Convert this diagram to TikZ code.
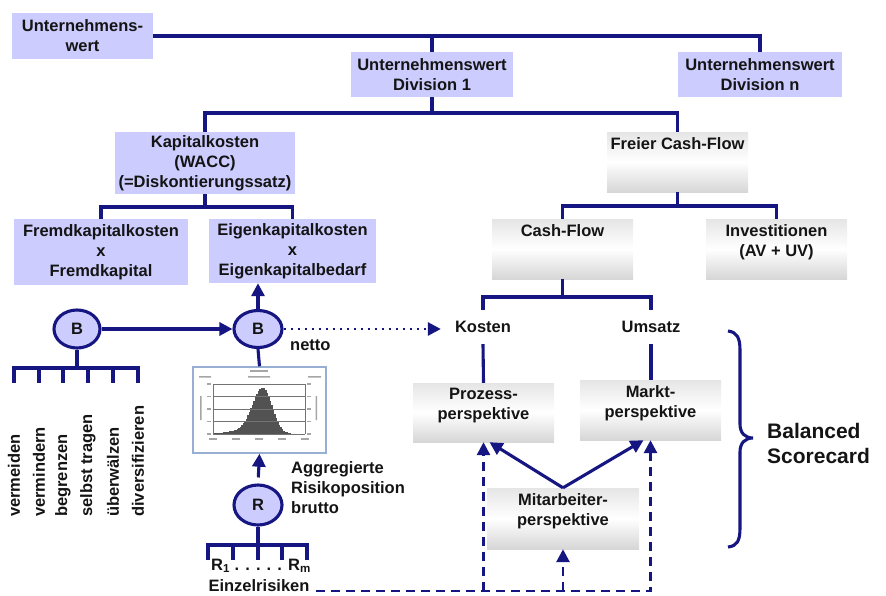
\documentclass[tikz,border=0pt]{standalone}
\usepackage{fontspec}
\setmainfont{Liberation Sans}
\usetikzlibrary{arrows.meta,shapes.geometric}
\definecolor{lav}{RGB}{204,204,255}
\definecolor{navy}{RGB}{22,22,130}
\definecolor{steel}{RGB}{150,175,210}
\begin{document}
\begin{tikzpicture}[x=1pt,y=-1pt,
  every node/.style={font=\fontsize{16.5}{20}\selectfont\bfseries, inner sep=0pt, text=black!92},
  conn/.style={draw=navy, line width=3.1pt},
  tip/.style={-{Triangle[length=13pt,width=13pt]}},
  dsh/.style={conn, line width=2.8pt, dash pattern=on 9pt off 6pt},
  dots/.style={conn, line width=2.8pt, dash pattern=on 2.6pt off 4.4pt},
  lbox/.style={fill=lav, align=center},
  gbox/.style={top color=gray!20, bottom color=gray!32, middle color=white},
  toptext/.style={anchor=north, yshift=-6pt, align=center},
  circ/.style={ellipse, draw=navy, fill=lav, line width=3.1pt},
  rot/.style={rotate=90, anchor=west},
  big/.style={font=\fontsize{21}{25}\selectfont\bfseries}
]
\useasboundingbox (0,0) rectangle (886,595);

% --- upper tree (lavender boxes)
\node[lbox, minimum width=141, minimum height=46] (uw) at (82.5,36) {Unternehmens-\\wert};
\node[lbox, minimum width=162, minimum height=45] (d1) at (432,74.5) {Unternehmenswert\\Division 1};
\node[lbox, minimum width=164, minimum height=45] (dn) at (760,74.5) {Unternehmenswert\\Division n};
\node[lbox, minimum width=180, minimum height=62] (kk) at (205,163) {Kapitalkosten\\(WACC)\\(=Diskontierungssatz)};
\node[lbox, minimum width=174, minimum height=66] (fk) at (101,252) {Fremdkapitalkosten\\x\\Fremdkapital};
\node[lbox, minimum width=167, minimum height=64] (ek) at (292.5,251) {Eigenkapitalkosten\\x\\Eigenkapitalbedarf};

% --- gradient boxes
\node[gbox, minimum width=141, minimum height=60, label={[toptext]north:Freier Cash-Flow}] (fcf) at (677.5,162) {};
\node[gbox, minimum width=141, minimum height=60, label={[toptext]north:Cash-Flow}] (cf) at (562.5,249) {};
\node[gbox, minimum width=141, minimum height=60, label={[toptext]north:Investitionen\\(AV + UV)}] (inv) at (776.5,249) {};
\node[gbox, minimum width=141, minimum height=59, label={[toptext, yshift=1pt]north:Prozess-\\perspektive}] (pz) at (483.5,412.5) {};
\node[gbox, minimum width=141, minimum height=60, label={[toptext]north:Markt-\\perspektive}] (mk) at (650.5,410) {};
\node[gbox, minimum width=152, minimum height=61, label={[toptext]north:Mitarbeiter-\\perspektive}] (ma) at (563,518.5) {};

\node[minimum height=34] (ko) at (483,327) {Kosten};
\node[minimum height=34] (um) at (651,327) {Umsatz};

% --- tree connectors
\draw[conn] (uw.east) -| (dn.north);
\draw[conn] (d1.north) -- (d1.north |- uw.east);
\coordinate (j1) at (432,113);
\draw[conn] (d1.south) -- (j1);
\draw[conn] (kk.north) |- (j1) -| (fcf.north);
\coordinate (j2) at (205,207);
\draw[conn] (kk.south) -- (j2);
\draw[conn] (fk.north) |- (j2) -| (ek.north);
\coordinate (j3) at (677.5,206);
\draw[conn] (fcf.south) -- (j3);
\draw[conn] (cf.north) |- (j3) -| (inv.north);
\coordinate (j4) at (562.5,297);
\draw[conn] (cf.south) -- (j4);
\draw[conn] (ko.north) |- (j4) -| (um.north);
\draw[conn] (ko.south) -- (pz.north);
\draw[conn] (um.south) -- (um.south |- mk.north);

% --- balanced scorecard arrows
\draw[conn, tip] (ma.north) -- ([xshift=6pt]pz.south);
\draw[conn, tip] (ma.north) -- ([xshift=-7pt]mk.south);

% --- brace
\draw[navy, line width=3.1pt] (728,331) .. controls (737,332) and (740,338) .. (740,350) -- (740,424)
  .. controls (740,433) and (745,438) .. (753,438) .. controls (745,438) and (740,443) .. (740,452)
  -- (740,528) .. controls (740,541) and (737,546) .. (728,547);
\node[big, anchor=west, align=left] (bsc) at (767,443) {Balanced\\Scorecard};

% --- risk part
\node[circ, minimum width=46, minimum height=38] (b1) at (77,329) {B};
\node[circ, minimum width=48, minimum height=37] (b2) at (258,329) {B};
\node[circ, minimum width=48, minimum height=40] (r) at (258,505) {R};
\node[anchor=base west] (netto) at (290,350) {netto};
\node[anchor=west, align=left] (agg) at (291,488) {Aggregierte\\Risikoposition\\brutto};

\draw[conn, tip] (b1.east) -- (b2.west);
\draw[conn, tip] (b2.north) -- (b2.north |- ek.south);
\draw[dots, tip, shorten >=14pt] (b2.east) -- (b2.east -| ko.west);

% histogram picture
\node[draw=steel, line width=1.4pt, fill=white, minimum width=133, minimum height=86] (hist) at (259.5,410) {};
\draw[conn] (b2.south) -- (hist.north);
\draw[conn, tip, shorten <=6pt] (r.north) -- (hist.south);
\foreach \xx in {0,...,58} {
  \pgfmathsetmacro\x{215+\xx*1.5}
  \pgfmathsetmacro\s{(\x<263) ? 15 : 13}
  \pgfmathsetmacro\h{46*exp(-((\x-263)/\s)^2)+2.5*exp(-((\x-236)/18)^2)}
  \fill[black!68] (\x-0.75,434) rectangle (\x+0.75,434-\h);
}
\foreach \g in {384,396.5,409,421.5,434} \draw[black!55, line width=0.4pt] (213,\g) -- (305,\g);
\draw[black!55, line width=0.4pt] (213,384) -- (213,434) (305,384) -- (305,434);
\fill[black!35] (250,370) rectangle (268,371.5);
\fill[black!35] (199,376) rectangle (211,377.5) (248,376) rectangle (270,377.5) (308,376) rectangle (321,377.5);
\foreach \t in {213,236,259,282,305} \fill[black!35] (\t-4,438) rectangle (\t+4,439.5);
\foreach \t in {384,396.5,409,421.5,434} {\fill[black!35] (207,\t-0.7) rectangle (211,\t+0.7); \fill[black!35] (307,\t-0.7) rectangle (311,\t+0.7);}
\fill[black!35] (200,396) rectangle (201.5,420) (315.5,396) rectangle (317,420);

% B1 comb and measures
\coordinate (c1) at (77,368);
\coordinate (c1e) at (77,383);
\draw[conn] (b1.south) -- (c1);
\foreach \i/\x/\t in {1/14/vermeiden,2/39/vermindern,3/63/begrenzen,4/88/selbst tragen,5/113/überwälzen,6/138/diversifizieren} {
  \node[rot] (v\i) at (\x,517) {\t};
  \draw[conn] (v\i |- c1) -- (v\i |- c1e);
}
\draw[conn, line cap=rect] (v1 |- c1) -- (v6 |- c1);

% R comb and single risks
\coordinate (c2) at (258,545);
\coordinate (c2e) at (258,560);
\draw[conn] (r.south) -- (c2e);
\draw[conn, line cap=rect] (208,545) -- (307,545);
\foreach \x in {208,233,282,307} \draw[conn] (\x,545) -- (\x,560);
\node (rr) at (261,566) {R\textsubscript{1} . . . . . R\textsubscript{m}};
\node (ez) at (259,586) {Einzelrisiken};
\coordinate (ezr) at ([xshift=6pt,yshift=-5pt]ez.east);

% dashed connectors
\draw[dsh, tip] (ezr) -| (mk.south);
\draw[dsh, tip] (ezr -| pz.south) -- (pz.south);
\draw[dsh, tip] (ezr -| ma.south) -- (ma.south);
\end{tikzpicture}
\end{document}
